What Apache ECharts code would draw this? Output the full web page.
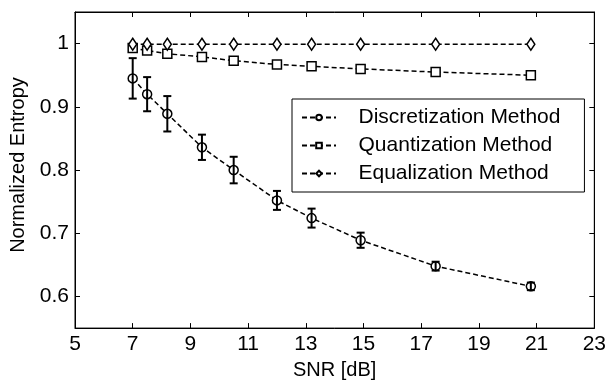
<!DOCTYPE html>
<html>
<head>
<meta charset="utf-8">
<script src="https://cdn.jsdelivr.net/npm/echarts@6/dist/echarts.min.js"></script>
<style>
  html, body { margin: 0; padding: 0; background: #fff; }
  #chart { width: 609px; height: 385px; }
</style>
</head>
<body>
<div id="chart"></div>
<script>
// SNR values [dB]
var snr = [7, 7.5, 8.2, 9.4, 10.5, 12, 13.2, 14.9, 17.5, 20.8];
var discretization = [0.945, 0.920, 0.889, 0.836, 0.800, 0.752, 0.724, 0.689, 0.648, 0.616];
var discretizationErr = [0.032, 0.027, 0.028, 0.020, 0.021, 0.015, 0.015, 0.012, 0.007, 0.006];
var quantization = [0.993, 0.989, 0.984, 0.979, 0.973, 0.967, 0.964, 0.960, 0.955, 0.950];
var equalization = [0.999, 0.999, 0.999, 0.999, 0.999, 0.999, 0.999, 0.999, 0.999, 0.999];
var yTicks = [0.6, 0.7, 0.8, 0.9, 1.0];

function pairs(ys) {
    return snr.map(function (x, i) { return [x, ys[i]]; });
}

var font = 'Liberation Sans, Arial, sans-serif';
var myChart = echarts.init(document.getElementById('chart'));

var lineBase = {
    type: 'line',
    symbolSize: 9,
    lineStyle: { color: '#000', width: 1.5, type: [5, 3] },
    itemStyle: { color: '#fff', borderColor: '#000', borderWidth: 1.5 },
    emphasis: { disabled: true },
    z: 3
};
var tickStyle = { show: true, inside: true, length: 5, lineStyle: { color: '#000' } };

myChart.setOption({
    animation: false,
    backgroundColor: '#fff',
    grid: {
        left: 75, right: 9, top: 12, bottom: 54,
        show: true, borderColor: '#000', borderWidth: 1
    },
    legend: {
        orient: 'vertical',
        left: 292, top: 99,
        itemWidth: 34, itemHeight: 7,
        itemGap: 7,
        padding: [8, 24, 8, 9],
        borderColor: '#000', borderWidth: 1,
        backgroundColor: '#fff',
        formatter: function (n) { return '   ' + n; },
        textStyle: { fontFamily: font, fontSize: 21, color: '#000' },
        data: ['Discretization Method', 'Quantization Method', 'Equalization Method']
    },
    xAxis: [{
        type: 'value', min: 5, max: 23, interval: 2,
        name: 'SNR [dB]', nameLocation: 'middle', nameGap: 31,
        nameTextStyle: { fontFamily: font, fontSize: 20, color: '#000' },
        axisLine: { lineStyle: { color: '#000' } },
        axisTick: tickStyle,
        axisLabel: { fontFamily: font, fontSize: 21, color: '#000', margin: 6 },
        splitLine: { show: false }
    }, {
        type: 'value', min: 5, max: 23, interval: 2, position: 'top',
        axisLine: { lineStyle: { color: '#000' } },
        axisTick: tickStyle,
        axisLabel: { show: false },
        splitLine: { show: false }
    }],
    yAxis: [{
        type: 'value', min: 0.55, max: 1.05,
        name: 'Normalized Entropy', nameLocation: 'middle', nameGap: 44,
        nameTextStyle: { fontFamily: font, fontSize: 20, color: '#000', padding: [0, 0, 0, 10] },
        axisLine: { show: true, lineStyle: { color: '#000' } },
        axisTick: Object.assign({ customValues: yTicks }, tickStyle),
        axisLabel: {
            fontFamily: font, fontSize: 21, color: '#000', margin: 6,
            customValues: yTicks,
            formatter: function (v) { return Math.abs(v - 1) < 1e-9 ? '1' : v.toFixed(1); }
        },
        splitLine: { show: false }
    }, {
        type: 'value', min: 0.55, max: 1.05, position: 'right',
        axisLine: { show: true, lineStyle: { color: '#000' } },
        axisTick: Object.assign({ customValues: yTicks }, tickStyle),
        axisLabel: { show: false },
        splitLine: { show: false }
    }],
    series: [
        Object.assign({}, lineBase, {
            name: 'Discretization Method', symbol: 'circle', data: pairs(discretization)
        }),
        Object.assign({}, lineBase, {
            name: 'Quantization Method', symbol: 'rect', data: pairs(quantization)
        }),
        Object.assign({}, lineBase, {
            name: 'Equalization Method', symbol: 'diamond', symbolSize: [8, 12], data: pairs(equalization)
        }),
        {
            type: 'custom',
            name: 'err',
            z: 4,
            silent: true,
            data: snr.map(function (x, i) {
                return [x, discretization[i] - discretizationErr[i], discretization[i] + discretizationErr[i]];
            }),
            renderItem: function (params, api) {
                var lo = api.coord([api.value(0), api.value(1)]);
                var hi = api.coord([api.value(0), api.value(2)]);
                var w = 4;
                var style = { stroke: '#000', lineWidth: 2 };
                return {
                    type: 'group',
                    children: [
                        { type: 'line', shape: { x1: lo[0], y1: lo[1], x2: hi[0], y2: hi[1] }, style: style },
                        { type: 'line', shape: { x1: lo[0] - w, y1: lo[1], x2: lo[0] + w, y2: lo[1] }, style: style },
                        { type: 'line', shape: { x1: hi[0] - w, y1: hi[1], x2: hi[0] + w, y2: hi[1] }, style: style }
                    ]
                };
            }
        }
    ]
});
</script>
</body>
</html>
